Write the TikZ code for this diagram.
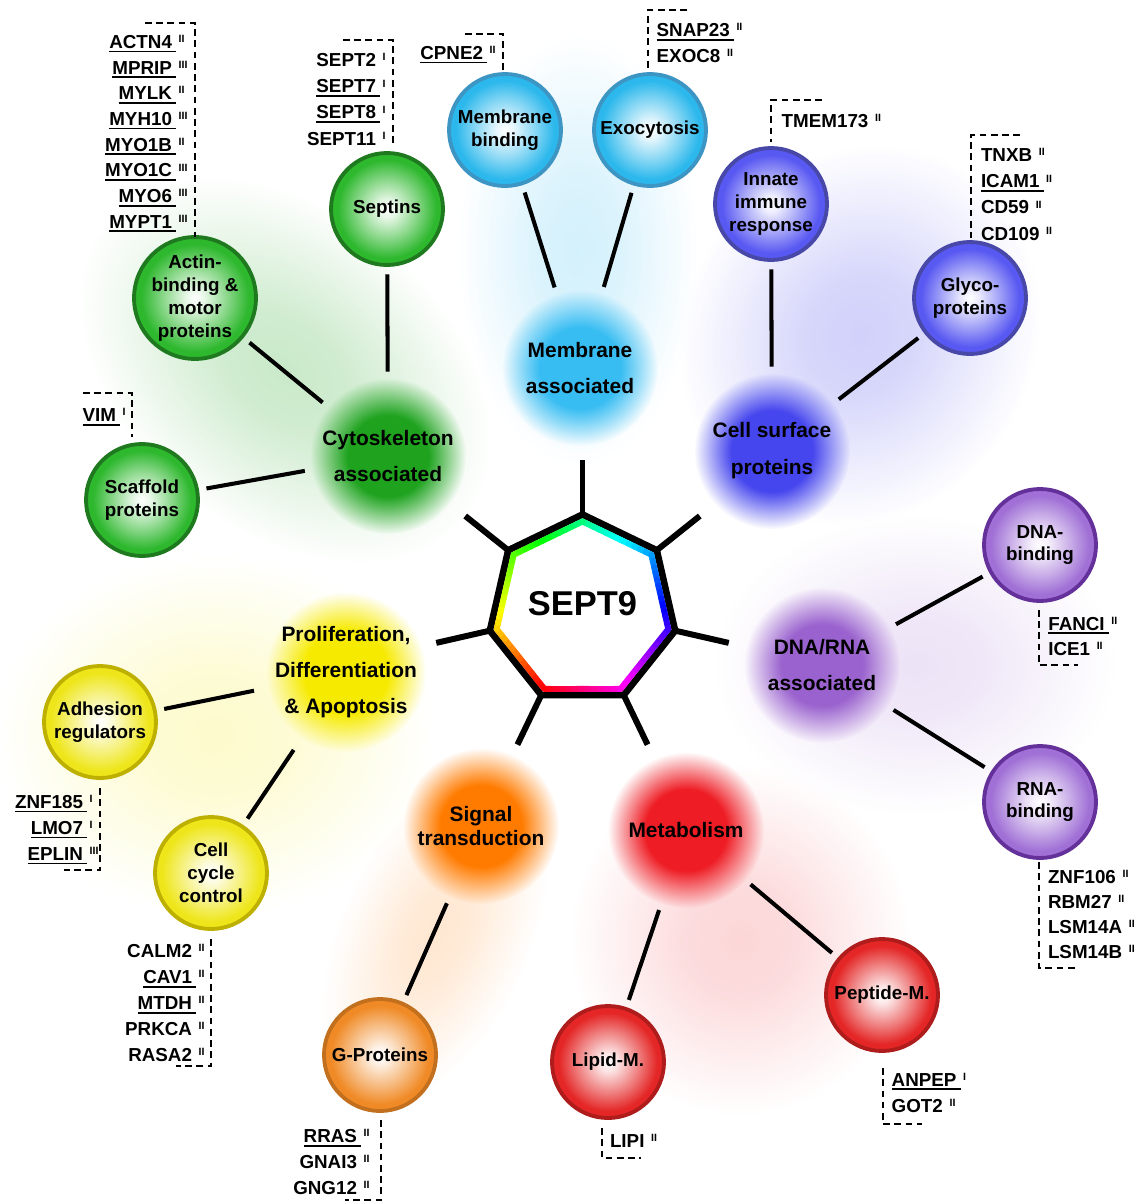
\documentclass[tikz,border=0pt]{standalone}
\usepackage{fontspec}
\setmainfont{Liberation Sans}
\usetikzlibrary{calc,fadings}

\definecolor{grnC}{HTML}{2EB82E}\definecolor{grnB}{HTML}{1F7A1F}\definecolor{grnG}{HTML}{1FA31F}
\definecolor{bluC}{HTML}{2CB8EC}\definecolor{bluB}{HTML}{3D95C4}\definecolor{bluG}{HTML}{38BDF2}
\definecolor{vioC}{HTML}{5858F2}\definecolor{vioB}{HTML}{4848A8}\definecolor{vioG}{HTML}{4646EE}
\definecolor{purC}{HTML}{A070D6}\definecolor{purB}{HTML}{64309A}\definecolor{purG}{HTML}{9A62CE}
\definecolor{yelC}{HTML}{EEE61A}\definecolor{yelB}{HTML}{BDB000}\definecolor{yelG}{HTML}{F6EA00}
\definecolor{oraC}{HTML}{F08A26}\definecolor{oraB}{HTML}{C2701E}\definecolor{oraG}{HTML}{FF7B00}
\definecolor{redC}{HTML}{E42626}\definecolor{redB}{HTML}{AE1C1C}\definecolor{redG}{HTML}{EE1C24}

\newcommand\mkshade[1]{\pgfdeclareradialshading{#1S}{\pgfpointorigin}{color(0bp)=(white); color(4bp)=(#1C!12); color(14bp)=(#1C!60); color(22bp)=(#1C); color(50bp)=(#1C)}}
\mkshade{grn}\mkshade{blu}\mkshade{vio}\mkshade{pur}\mkshade{yel}\mkshade{ora}\mkshade{red}

\pgfdeclareradialshading{glowmask}{\pgfpointorigin}{color(0bp)=(white); color(13bp)=(white); color(25bp)=(black); color(50bp)=(black)}
\pgfdeclareradialshading{bgmask}{\pgfpointorigin}{color(0bp)=(white); color(8bp)=(white!85!black); color(25bp)=(black); color(50bp)=(black)}
\pgfdeclarefading{glowfade}{\pgfuseshading{glowmask}}
\pgfdeclarefading{bgfade}{\pgfuseshading{bgmask}}

\newcommand\gu[1]{\setbox0\hbox{#1}\rlap{\rule[-2.3pt]{\dimexpr\wd0+2.4pt\relax}{1pt}}#1}
\newcommand\rnum[1]{\rlap{\kern3.8pt\raisebox{3.3pt}{\fontsize{6}{6}\selectfont#1}}}

\tikzset{
  cat/.style={circle, minimum size=3cm, inner sep=0pt, outer sep=0pt, align=center, font=\fontsize{11.9}{21}\selectfont\bfseries},
  sub/.style={circle, draw=#1B, line width=2.2pt, shading=#1S, minimum size=2.24cm, inner sep=0pt, outer sep=0pt, align=center, font=\fontsize{10.7}{13}\selectfont\bfseries},
  conn/.style={line width=2.3pt, shorten <=0.19cm, shorten >=0.19cm},
  gene/.style={inner sep=0pt, outer sep=0pt, font=\fontsize{10.7}{13}\selectfont\bfseries},
  bracket/.style={dash pattern=on 3.8pt off 2.6pt, line width=1.1pt},
  glow/.style={fill=#1, path fading=glowfade},
}

\begin{document}
\begin{tikzpicture}[x=0.02cm, y=-0.02cm]
\useasboundingbox (0,0) rectangle (1136,1204);

% pale group backgrounds
\fill[grnG, fill opacity=.24, path fading=bgfade, transform canvas={shift={(285,370)}, rotate=-40}] (0,0) ellipse (235 and 160);
\fill[bluG, fill opacity=.22, path fading=bgfade, transform canvas={shift={(578,250)}}] (0,0) ellipse (120 and 215);
\fill[vioG, fill opacity=.25, path fading=bgfade, transform canvas={shift={(860,335)}, rotate=-30}] (0,0) ellipse (175 and 195);
\fill[purG, fill opacity=.18, path fading=bgfade, transform canvas={shift={(915,665)}}] (0,0) ellipse (200 and 150);
\fill[yelG, fill opacity=.20, path fading=bgfade, transform canvas={shift={(215,735)}}] (0,0) ellipse (220 and 180);
\fill[oraG, fill opacity=.18, path fading=bgfade, transform canvas={shift={(435,935)}, rotate=66}] (0,0) ellipse (180 and 95);
\fill[redG, fill opacity=.18, path fading=bgfade, transform canvas={shift={(740,940)}}] (0,0) ellipse (170 and 175);

% glow positions
\coordinate (pcyto) at (388,456);
\coordinate (pmema) at (580,368);
\coordinate (pcell) at (772,451);
\coordinate (pdna) at (822,665);
\coordinate (pprol) at (346,672);
\coordinate (psig) at (481,826);
\coordinate (pmet) at (686,830);

\fill[glow=grnG] (pcyto) circle (78);
\fill[glow=bluG] (pmema) circle (78);
\fill[glow=vioG] (pcell) circle (78);
\fill[glow=purG] (pdna) circle (78);
\fill[glow=yelG] (pprol) circle (80);
\fill[glow=oraG] (psig) circle (78);
\fill[glow=redG] (pmet) circle (78);

\node[cat] (cyto) at (pcyto) {Cytoskeleton\\associated};
\node[cat] (mema) at (pmema) {Membrane\\associated};
\node[cat] (cell) at (pcell) {Cell surface\\proteins};
\node[cat] (dna) at (pdna) {DNA/RNA\\associated};
\node[cat, font=\fontsize{11.9}{20.5}\selectfont\bfseries] (prol) at (pprol) {Proliferation,\\Differentiation\\\& Apoptosis};
\node[cat, font=\fontsize{11.9}{14.2}\selectfont\bfseries] (sig) at (psig) {Signal\\transduction};
\node[cat] (met) at (pmet) {Metabolism};

% sub circles
\node[sub=grn] (septins) at (387,209) {Septins};
\node[sub=grn] (actin) at (195,298) {Actin-\\binding \&\\motor\\proteins};
\node[sub=grn] (scaf) at (142,500) {Scaffold\\proteins};
\node[sub=blu] (membind) at (505,130) {Membrane\\binding};
\node[sub=blu] (exo) at (650,130) {Exocytosis};
\node[sub=vio] (innate) at (771,204) {Innate\\immune\\response};
\node[sub=vio] (glyco) at (970,298) {Glyco-\\proteins};
\node[sub=pur] (dnab) at (1040,545) {DNA-\\binding};
\node[sub=pur] (rnab) at (1040,802) {RNA-\\binding};
\node[sub=yel] (adh) at (100,722) {Adhesion\\regulators};
\node[sub=yel] (ccyc) at (211,873) {Cell\\cycle\\control};
\node[sub=ora] (gprot) at (380,1055) {G-Proteins};
\node[sub=red] (lipid) at (608,1062) {Lipid-M.};
\node[sub=red] (pept) at (882,995) {Peptide-M.};

% connectors
\draw[conn] (septins) -- (cyto);
\draw[conn] (actin) -- (cyto);
\draw[conn] (scaf) -- (cyto);
\draw[conn] (membind) -- (mema);
\draw[conn] (exo) -- (mema);
\draw[conn] (innate) -- (cell);
\draw[conn] (glyco) -- (cell);
\draw[conn] (dnab) -- (dna);
\draw[conn] (rnab) -- (dna);
\draw[conn] (adh) -- (prol);
\draw[conn] (ccyc) -- (prol);
\draw[conn] (gprot) -- (sig);
\draw[conn] (lipid) -- (met);
\draw[conn] (pept) -- (met);

% SEPT9 heptagon
\begin{scope}[shift={(582.5,609.5)}, x=0.02cm, y=0.02cm]
  \foreach \a in {90,38.5714,-12.8571,-64.2857,-115.7143,-167.1429,141.4286}
    \draw[line width=3.4pt] (\a:95) -- (\a:150);
  \draw[line width=3.8pt, line join=miter] (90:95) -- (38.5714:95) -- (-12.8571:95) -- (-64.2857:95) -- (-115.7143:95) -- (-167.1429:95) -- (141.4286:95) -- cycle;
  \foreach \i in {0,...,6}
    \coordinate (hv\i) at ({90-51.4286*\i}:88);
  \foreach \i in {0,...,6}{
    \pgfmathtruncatemacro{\ii}{mod(\i+1,7)}
    \foreach \j in {0,...,11}{
      \pgfmathsetmacro{\ta}{\j/12}
      \pgfmathsetmacro{\tb}{(\j+1)/12}
      \pgfmathsetmacro{\hh}{mod(150+51.4286*(\i+(\j+0.5)/12),360)}
      \definecolor{hc}{Hsb}{\hh,1,1}
      \draw[hc, line width=3.4pt, line cap=round] ($(hv\i)!\ta!(hv\ii)$) -- ($(hv\i)!\tb!(hv\ii)$);
    }
  }
\end{scope}
\node[font=\fontsize{19.6}{22}\selectfont\bfseries, inner sep=0pt] (sept9) at (582.5,604) {SEPT9};

% gene lists
\foreach \g [count=\k] in {{\gu{ACTN4}\rnum{II}},{\gu{MPRIP}\rnum{III}},{\gu{MYLK}\rnum{II}},{\gu{MYH10}\rnum{III}},{\gu{MYO1B}\rnum{II}},{\gu{MYO1C}\rnum{III}},{\gu{MYO6}\rnum{III}},{\gu{MYPT1}\rnum{III}}}
  \node[gene, anchor=base east] (actg\k) at (172,{22.6+25.7*\k}) {\g};
\draw[bracket] (145,23) -- (195,23) -- (195,237);

\foreach \g [count=\k] in {{SEPT2\rnum{I}},{\gu{SEPT7}\rnum{I}},{\gu{SEPT8}\rnum{I}},{SEPT11\rnum{I}}}
  \node[gene, anchor=base east] (sepg\k) at (376,{40.6+26.1*\k}) {\g};
\draw[bracket] (343,40) -- (393,40) -- (393,145);

\node[gene, anchor=base east] (cpne) at (483,59.3) {\gu{CPNE2}\rnum{II}};
\draw[bracket] (465,34) -- (503,34) -- (503,70);

\node[gene, anchor=base west] (snap) at (656.7,36.7) {\gu{SNAP23}\rnum{II}};
\node[gene, anchor=base west] (exoc) at (656.7,62.3) {EXOC8\rnum{II}};
\draw[bracket] (687,10) -- (648,10) -- (648,70);

\node[gene, anchor=base west] (tmem) at (781.7,127.3) {TMEM173\rnum{II}};
\draw[bracket] (822,100) -- (771,100) -- (771,142);

\foreach \g [count=\k] in {{TNXB\rnum{II}},{\gu{ICAM1}\rnum{II}},{CD59\rnum{II}},{CD109\rnum{II}}}
  \node[gene, anchor=base west] (glyg\k) at (981,{135.6+26.1*\k}) {\g};
\draw[bracket] (1020,135) -- (971,135) -- (971,238);

\node[gene, anchor=base east] (vim) at (116,421.7) {\gu{VIM}\rnum{I}};
\draw[bracket] (83,393) -- (132,393) -- (132,437);

\foreach \g [count=\k] in {{\gu{ZNF185}\rnum{I}},{\gu{LMO7}\rnum{I}},{\gu{EPLIN}\rnum{III}}}
  \node[gene, anchor=base east] (adhg\k) at (83,{782.3+26*\k}) {\g};
\draw[bracket] (100,788) -- (100,870) -- (64,870);

\foreach \g [count=\k] in {{CALM2\rnum{II}},{\gu{CAV1}\rnum{II}},{\gu{MTDH}\rnum{II}},{PRKCA\rnum{II}},{RASA2\rnum{II}}}
  \node[gene, anchor=base east] (ccg\k) at (192,{931.7+26*\k}) {\g};
\draw[bracket] (211,939) -- (211,1066) -- (176,1066);

\foreach \g [count=\k] in {{\gu{RRAS}\rnum{II}},{GNAI3\rnum{II}},{GNG12\rnum{II}}}
  \node[gene, anchor=base east] (gg\k) at (357,{1117+25.7*\k}) {\g};
\draw[bracket] (381,1120) -- (381,1200) -- (345,1200);

\node[gene, anchor=base west] (lipi) at (610,1147.7) {LIPI\rnum{II}};
\draw[bracket] (602,1128) -- (602,1158) -- (641,1158);

\node[gene, anchor=base west] (anpep) at (891.7,1086) {\gu{ANPEP}\rnum{I}};
\node[gene, anchor=base west] (got) at (891.7,1112.7) {GOT2\rnum{II}};
\draw[bracket] (883,1068) -- (883,1124) -- (922,1124);

\node[gene, anchor=base west] (fanci) at (1048.3,630) {\gu{FANCI}\rnum{II}};
\node[gene, anchor=base west] (ice) at (1048.3,655) {ICE1\rnum{II}};
\draw[bracket] (1039,610) -- (1039,665) -- (1078,665);

\foreach \g [count=\k] in {{ZNF106\rnum{II}},{RBM27\rnum{II}},{LSM14A\rnum{II}},{LSM14B\rnum{II}}}
  \node[gene, anchor=base west] (rnag\k) at (1048,{858.3+25*\k}) {\g};
\draw[bracket] (1039,862) -- (1039,968) -- (1078,968);
\end{tikzpicture}
\end{document}
